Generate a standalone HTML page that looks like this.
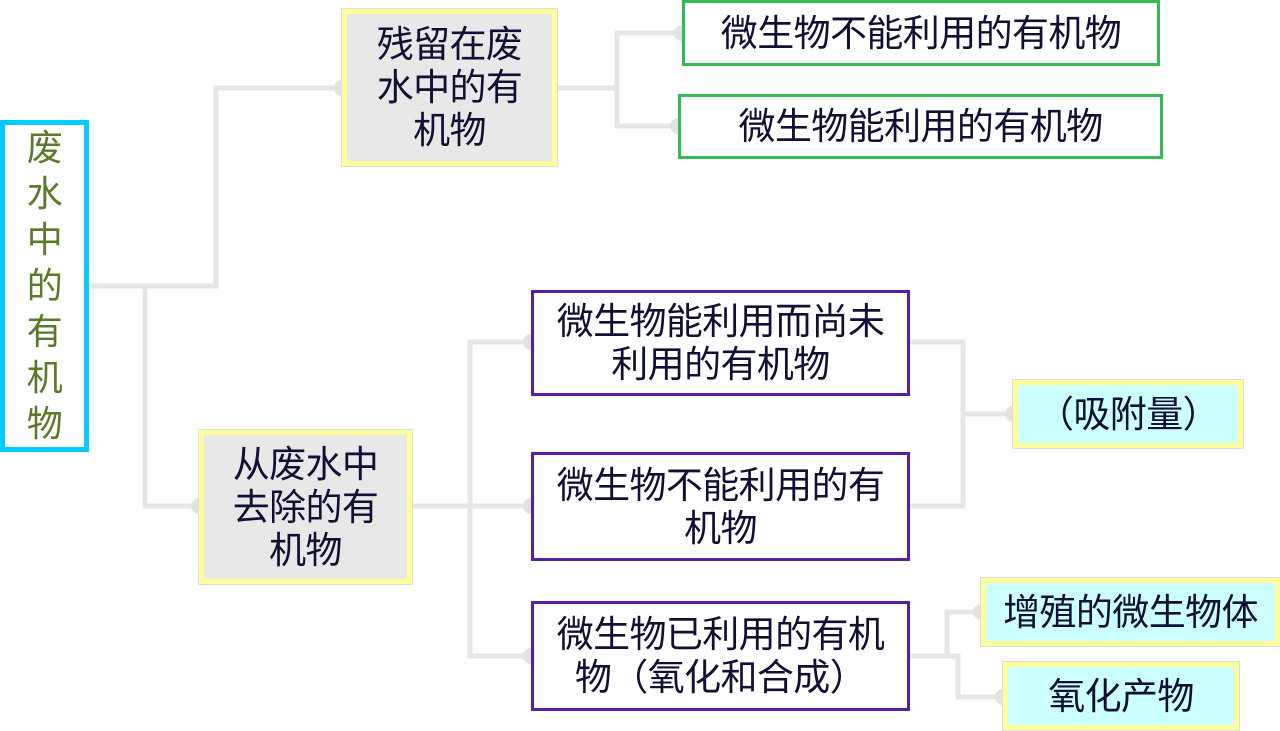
<!DOCTYPE html>
<html><head><meta charset="utf-8"><style>
html,body{margin:0;padding:0;background:#fff;width:1280px;height:731px;overflow:hidden;position:relative}
.b{position:absolute;box-sizing:border-box;display:flex;align-items:center;justify-content:center;text-align:center;font-family:"Noto Sans CJK SC","Liberation Sans",sans-serif;font-size:37px;line-height:43px;color:#101035;letter-spacing:-0.6px;padding-bottom:6px}
.y{border:5px solid #ffff99;outline:1px solid #ddd;background:#e8e8e8}
.c{border:5px solid #ffff99;outline:1px solid #ddd;background:#ccffff}
.g{border:3px solid #33bb55;background:#fff}
.p{border:3px solid #5520a8;background:#fff}
svg{position:absolute;left:0;top:0}
</style></head><body>
<svg width="1280" height="731">
<g fill="none" stroke="#e6e6e6" stroke-width="5">
<polyline points="88,286 216,286 216,88 342,88"/>
<polyline points="145,286 145,506 199,506"/>
<polyline points="557,88 617,88"/>
<polyline points="682,33 617,33 617,126 678,126"/>
<polyline points="412,506 470,506"/>
<polyline points="531,342 470,342 470,656 531,656"/>
<polyline points="470,506 531,506"/>
<polyline points="910,342 963,342 963,506 910,506"/>
<polyline points="963,414 1013,414"/>
<polyline points="910,656 947,656 947,612 981,612"/>
<polyline points="947,656 958,656 958,697 1003,697"/>
</g>
<g fill="#e2e2e2">
<circle cx="342" cy="88" r="8"/><circle cx="199" cy="506" r="8"/>
<circle cx="682" cy="33" r="8"/><circle cx="678" cy="126" r="8"/>
<circle cx="531" cy="342" r="8"/><circle cx="531" cy="506" r="8"/><circle cx="531" cy="656" r="8"/>
<circle cx="1013" cy="414" r="8"/><circle cx="981" cy="612" r="8"/><circle cx="1003" cy="697" r="8"/>
</g>
</svg>
<div class="b" style="left:0;top:120px;width:89px;height:332px;border:5px solid #00ccff;background:#fff;color:#5a7a2a;font-size:36px;line-height:46px;">废<br>水<br>中<br>的<br>有<br>机<br>物</div>
<div class="b y" style="left:342px;top:9px;width:215px;height:157px;">残留在废<br>水中的有<br>机物</div>
<div class="b g" style="left:682px;top:0;width:478px;height:66px;">微生物不能利用的有机物</div>
<div class="b g" style="left:678px;top:94px;width:485px;height:65px;">微生物能利用的有机物</div>
<div class="b y" style="left:199px;top:430px;width:213px;height:154px;">从废水中<br>去除的有<br>机物</div>
<div class="b p" style="left:531px;top:290px;width:379px;height:106px;">微生物能利用而尚未<br>利用的有机物</div>
<div class="b p" style="left:531px;top:452px;width:379px;height:109px;">微生物不能利用的有<br>机物</div>
<div class="b p" style="left:531px;top:601px;width:379px;height:110px;">微生物已利用的有机<br>物（氧化和合成）</div>
<div class="b c" style="left:1013px;top:380px;width:230px;height:68px;">（吸附量）</div>
<div class="b c" style="left:981px;top:578px;width:299px;height:68px;">增殖的微生物体</div>
<div class="b c" style="left:1003px;top:662px;width:236px;height:68px;">氧化产物</div>
</body></html>
